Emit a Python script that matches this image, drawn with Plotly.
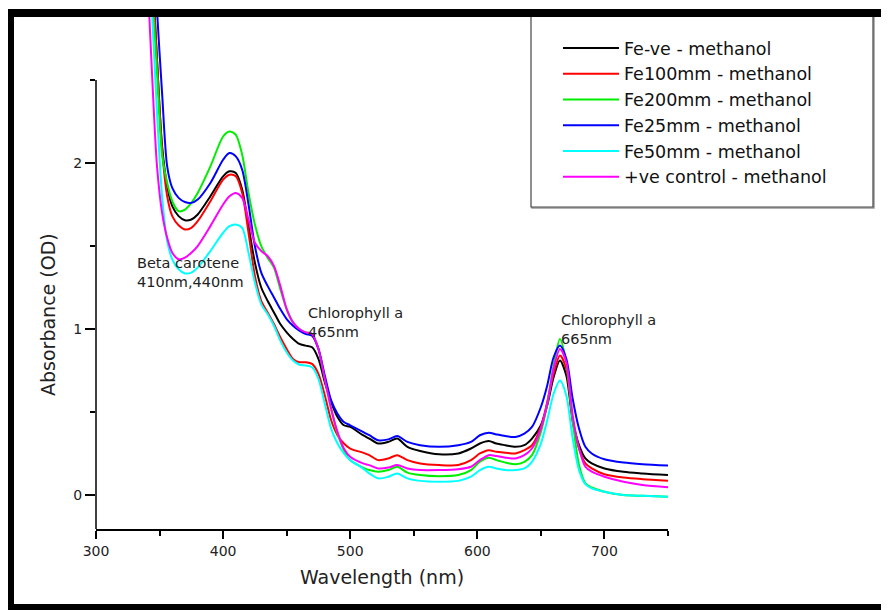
import plotly.graph_objects as go

# ---------------- data ----------------
wavelength = [340, 344, 348, 352, 356, 360, 365, 370, 375, 380, 390, 400, 405, 410,
              415, 420, 425, 430, 435, 440, 445, 450, 455, 460, 465, 470, 475, 480,
              485, 490, 495, 500, 510, 515, 522, 530, 537, 545, 555, 570, 585, 595,
              602, 609, 615, 622, 630, 637, 643, 650, 655, 660, 665, 670, 675, 680,
              685, 690, 700, 715, 730, 750]

fe_ve = [3.7, 3.2, 2.62, 2.10, 1.86, 1.74, 1.68, 1.655, 1.66, 1.69, 1.80, 1.92, 1.95, 1.94,
         1.84, 1.62, 1.40, 1.25, 1.17, 1.10, 1.03, 0.98, 0.94, 0.91, 0.90, 0.89, 0.82, 0.68,
         0.56, 0.47, 0.42, 0.41, 0.36, 0.34, 0.31, 0.32, 0.34, 0.29, 0.265, 0.245, 0.25, 0.28,
         0.31, 0.325, 0.31, 0.30, 0.29, 0.30, 0.34, 0.42, 0.54, 0.71, 0.81, 0.72, 0.45, 0.30,
         0.22, 0.19, 0.16, 0.14, 0.13, 0.12]

fe100 = [3.7, 3.2, 2.62, 2.08, 1.80, 1.68, 1.625, 1.60, 1.61, 1.65, 1.77, 1.90, 1.93, 1.92,
         1.82, 1.58, 1.32, 1.17, 1.10, 1.03, 0.95, 0.88, 0.82, 0.80, 0.80, 0.79, 0.73, 0.60,
         0.45, 0.36, 0.31, 0.28, 0.255, 0.24, 0.21, 0.22, 0.24, 0.21, 0.19, 0.18, 0.18, 0.21,
         0.25, 0.27, 0.26, 0.255, 0.25, 0.27, 0.30, 0.41, 0.56, 0.73, 0.84, 0.76, 0.44, 0.28,
         0.19, 0.16, 0.125, 0.105, 0.095, 0.086]

fe200 = [3.5, 3.05, 2.55, 2.05, 1.88, 1.77, 1.71, 1.72, 1.76, 1.82, 1.98, 2.16, 2.19, 2.17,
         2.05, 1.82, 1.63, 1.50, 1.43, 1.37, 1.24, 1.12, 1.04, 1.00, 0.98, 0.97, 0.88, 0.70,
         0.52, 0.37, 0.27, 0.21, 0.165, 0.15, 0.14, 0.15, 0.17, 0.135, 0.12, 0.113, 0.12, 0.15,
         0.20, 0.225, 0.21, 0.195, 0.185, 0.20, 0.24, 0.38, 0.55, 0.78, 0.94, 0.80, 0.45, 0.18,
         0.07, 0.045, 0.02, 0.0, -0.005, -0.01]

fe25 = [4.0, 3.5, 2.92, 2.42, 1.98, 1.85, 1.79, 1.765, 1.76, 1.78, 1.88, 2.02, 2.06, 2.04,
        1.96, 1.75, 1.50, 1.34, 1.26, 1.19, 1.12, 1.06, 1.02, 0.99, 0.97, 0.96, 0.88, 0.72,
        0.57, 0.49, 0.44, 0.42, 0.38, 0.36, 0.33, 0.335, 0.355, 0.32, 0.30, 0.29, 0.30, 0.32,
        0.36, 0.375, 0.365, 0.355, 0.35, 0.37, 0.41, 0.53, 0.66, 0.83, 0.90, 0.82, 0.58, 0.40,
        0.29, 0.25, 0.215, 0.195, 0.185, 0.177]

fe50 = [3.4, 2.92, 2.30, 1.80, 1.53, 1.42, 1.36, 1.335, 1.34, 1.37, 1.47, 1.58, 1.62, 1.63,
        1.61, 1.46, 1.28, 1.15, 1.09, 1.02, 0.93, 0.86, 0.81, 0.785, 0.78, 0.77, 0.70, 0.55,
        0.40, 0.31, 0.25, 0.21, 0.16, 0.13, 0.10, 0.11, 0.13, 0.10, 0.085, 0.08, 0.085, 0.11,
        0.15, 0.17, 0.16, 0.15, 0.15, 0.16, 0.20, 0.31, 0.45, 0.61, 0.69, 0.60, 0.34, 0.15,
        0.065, 0.04, 0.02, 0.0, -0.005, -0.01]

pos_control = [3.2, 2.55, 1.98, 1.70, 1.55, 1.46, 1.42, 1.43, 1.46, 1.50, 1.62, 1.75, 1.80, 1.82,
               1.79, 1.66, 1.52, 1.47, 1.44, 1.38, 1.26, 1.12, 1.04, 1.00, 0.98, 0.97, 0.88, 0.70,
               0.52, 0.38, 0.28, 0.23, 0.19, 0.18, 0.16, 0.165, 0.18, 0.16, 0.15, 0.15, 0.155, 0.17,
               0.21, 0.24, 0.235, 0.225, 0.22, 0.24, 0.28, 0.40, 0.55, 0.76, 0.88, 0.80, 0.48, 0.28,
               0.17, 0.14, 0.11, 0.08, 0.06, 0.046]

series_names = ["Fe-ve - methanol", "Fe100mm - methanol", "Fe200mm - methanol",
                "Fe25mm - methanol", "Fe50mm - methanol", "+ve control - methanol"]
series_values = [fe_ve, fe100, fe200, fe25, fe50, pos_control]
series_colors = ["#000000", "#ff0000", "#00ee00", "#0000ff", "#00ffff", "#ff00ff"]

x_ticks = [300, 400, 500, 600, 700]
y_ticks = [0, 1, 2]

annot_texts = ["Beta carotene<br>410nm,440nm", "Chlorophyll a<br>465nm", "Chlorophyll a<br>665nm"]
annot_x = [331, 465, 664]
annot_y = [1.343, 1.04, 0.997]

# ---------------- layout geometry (page pixels; page body has an 8px margin) ----------------
OFF = 8
W, H = 889 - OFF, 610 - OFF
PL, PR, PT, PB = 96, 668, 17, 529          # plot area edges in page pixels
L, R, T, B = PL - OFF, PR - OFF, PT - OFF, PB - OFF


def px_x(px):
    return (px - OFF - L) / (R - L)


def px_y(py):
    return (B - (py - OFF)) / (B - T)


FONT = "DejaVu Sans, Liberation Sans, Arial, sans-serif"
TXT = "#222222"

fig = go.Figure()
for name, vals, col in zip(series_names, series_values, series_colors):
    fig.add_trace(go.Scatter(
        x=wavelength, y=vals, name=name, mode="lines",
        line=dict(color=col, width=2, shape="spline", smoothing=0.8),
    ))

shapes = []
# y axis line from 2.5 down to the x axis
shapes.append(dict(type="line", xref="paper", yref="y", x0=0, x1=0, y0=-0.205, y1=2.5,
                   line=dict(color="black", width=1.5)))
# legend frame (with a faint shadow edge)
shapes.append(dict(type="rect", xref="paper", yref="paper",
                   x0=px_x(532), x1=px_x(874), y0=px_y(208), y1=px_y(11),
                   line=dict(color="#999999", width=1.5), fillcolor="rgba(0,0,0,0)"))
shapes.append(dict(type="rect", xref="paper", yref="paper",
                   x0=px_x(531), x1=px_x(873), y0=px_y(207), y1=px_y(10),
                   line=dict(color="#444444", width=1.2), fillcolor="white"))
# thick black picture frame (top, left, bottom)
shapes.append(dict(type="rect", xref="paper", yref="paper", x0=px_x(6), x1=px_x(900),
                   y0=px_y(17), y1=px_y(9), fillcolor="black", line=dict(width=0)))
shapes.append(dict(type="rect", xref="paper", yref="paper", x0=px_x(6), x1=px_x(14),
                   y0=px_y(620), y1=px_y(9), fillcolor="black", line=dict(width=0)))
shapes.append(dict(type="rect", xref="paper", yref="paper", x0=px_x(6), x1=px_x(900),
                   y0=px_y(620), y1=px_y(604), fillcolor="black", line=dict(width=0)))

annotations = []
for t, ax, ay in zip(annot_texts, annot_x, annot_y):
    annotations.append(dict(text=t, x=ax, y=ay, xref="x", yref="y", showarrow=False,
                            xanchor="left", yanchor="middle", align="left",
                            font=dict(family=FONT, size=14.5, color=TXT)))
annotations.append(dict(text="Absorbance (OD)", x=px_x(48), y=px_y(315), xref="paper", yref="paper",
                        showarrow=False, textangle=-90, xanchor="center", yanchor="middle",
                        font=dict(family=FONT, size=19, color=TXT)))

fig.update_layout(
    width=W, height=H,
    margin=dict(l=L, r=W - R, t=T, b=H - B),
    paper_bgcolor="white", plot_bgcolor="white",
    shapes=shapes, annotations=annotations,
    showlegend=True,
    legend=dict(x=px_x(558), y=px_y(30), xanchor="left", yanchor="top",
                bgcolor="rgba(0,0,0,0)", borderwidth=0, itemwidth=56,
                font=dict(family=FONT, size=17.5, color="#111111"), tracegroupgap=0),
    xaxis=dict(range=[300, 750], tickmode="array", tickvals=x_ticks,
               showline=True, linecolor="black", linewidth=1.5, mirror=False,
               ticks="outside", ticklen=8, tickwidth=1.5, tickcolor="black",
               minor=dict(dtick=50, tick0=300, ticks="outside", ticklen=5, tickwidth=1.5, tickcolor="black"),
               showgrid=False, zeroline=False,
               tickfont=dict(family=FONT, size=14, color=TXT),
               title=dict(text="Wavelength (nm)", standoff=13,
                          font=dict(family=FONT, size=19, color=TXT))),
    yaxis=dict(range=[-0.205, 2.88], tickmode="array", tickvals=y_ticks,
               showline=False, ticks="outside", ticklen=10, tickwidth=1.5, tickcolor="black",
               minor=dict(dtick=0.5, tick0=0, ticks="outside", ticklen=5, tickwidth=1.5, tickcolor="black"),
               showgrid=False, zeroline=False,
               tickfont=dict(family=FONT, size=14, color=TXT)),
)

fig.write_html("out.html")
